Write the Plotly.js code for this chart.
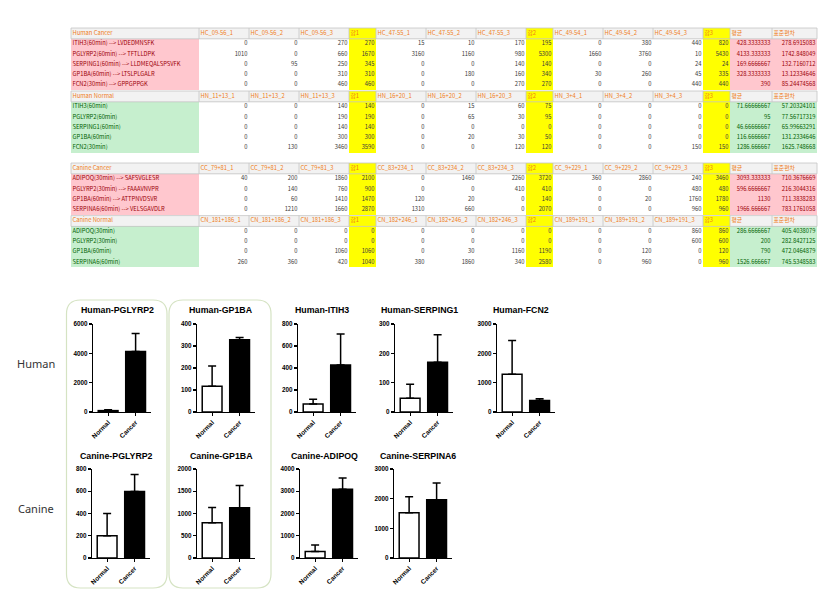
<!DOCTYPE html>
<html><head><meta charset="utf-8">
<script src="https://cdn.plot.ly/plotly-3.0.1.min.js"></script>
<style>html,body{margin:0;padding:0;background:#fff}#chart{width:840px;height:609px}</style>
</head><body><div id="chart"></div>
<script>
// ---------------- spreadsheet data ----------------
const hcHeader = ['Human Cancer','HC_09-56_1','HC_09-56_2','HC_09-56_3','합1','HC_47-55_1','HC_47-55_2','HC_47-55_3','합2','HC_49-54_1','HC_49-54_2','HC_49-54_3','합3','평균','표준편차'];
const hcLabels = ['ITIH3(60min) --> LVDEDMNSFK','PGLYRP2(60min) --> TFTLLDPK','SERPING1(60min) --> LLDMEQALSPSVFK','GP1BA(60min) --> LTSLPLGALR','FCN2(30min) --> GPPGPPGK'];
const hcValues = [
  [0,0,270,270,15,10,170,195,0,380,440,820,428.3333333,278.6915083],
  [1010,0,660,1670,3160,1160,980,5300,1660,3760,10,5430,4133.333333,1742.848049],
  [0,95,250,345,0,0,140,140,0,0,24,24,169.6666667,132.7160712],
  [0,0,310,310,0,180,160,340,30,260,45,335,328.3333333,13.12334646],
  [0,0,460,460,0,0,270,270,0,0,440,440,390,85.24474568]
];
const hnHeader = ['Human Normal','HN_11+13_1','HN_11+13_2','HN_11+13_3','합1','HN_16+20_1','HN_16+20_2','HN_16+20_3','합2','HN_3+4_1','HN_3+4_2','HN_3+4_3','합3','평균','표준편차'];
const hnLabels = ['ITIH3(60min)','PGLYRP2(60min)','SERPING1(60min)','GP1BA(60min)','FCN2(30min)'];
const hnValues = [
  [0,0,140,140,0,15,60,75,0,0,0,0,71.66666667,57.20324101],
  [0,0,190,190,0,65,30,95,0,0,0,0,95,77.56717319],
  [0,0,140,140,0,0,0,0,0,0,0,0,46.66666667,65.99663291],
  [0,0,300,300,0,20,30,50,0,0,0,0,116.6666667,131.2334646],
  [0,130,3460,3590,0,0,120,120,0,0,150,150,1286.666667,1625.748668]
];
const ccHeader = ['Canine Cancer','CC_79+81_1','CC_79+81_2','CC_79+81_3','합1','CC_83+234_1','CC_83+234_2','CC_83+234_3','합2','CC_9+229_1','CC_9+229_2','CC_9+229_3','합3','평균','표준편차'];
const ccLabels = ['ADIPOQ(30min) --> SAFSVGLESR','PGLYRP2(30min) --> FAAAVNVPR','GP1BA(60min) --> ATTPNVDSVR','SERPINA6(60min) --> VELSGAVDLR'];
const ccValues = [
  [40,200,1860,2100,0,1460,2260,3720,360,2860,240,3460,3093.333333,710.3676669],
  [0,140,760,900,0,0,410,410,0,0,480,480,596.6666667,216.3044316],
  [0,60,1410,1470,120,20,0,140,0,20,1760,1780,1130,711.3838283],
  [0,1210,1660,2870,1310,660,0,2070,0,0,960,960,1966.666667,783.1761058]
];
const cnHeader = ['Canine Normal','CN_181+186_1','CN_181+186_2','CN_181+186_3','합1','CN_182+246_1','CN_182+246_2','CN_182+246_3','합2','CN_189+191_1','CN_189+191_2','CN_189+191_3','합3','평균','표준편차'];
const cnLabels = ['ADIPOQ(30min)','PGLYRP2(30min)','GP1BA(60min)','SERPINA6(60min)'];
const cnValues = [
  [0,0,0,0,0,0,0,0,0,0,860,860,286.6666667,405.4038079],
  [0,0,0,0,0,0,0,0,0,0,600,600,200,282.8427125],
  [0,0,1060,1060,0,30,1160,1190,0,120,0,120,790,472.0464879],
  [260,360,420,1040,380,1860,340,2580,0,960,0,960,1526.666667,745.5348583]
];

// ---------------- bar chart data ----------------
const chartTitles = ['Human-PGLYRP2','Human-GP1BA','Human-ITIH3','Human-SERPING1','Human-FCN2','Canine-PGLYRP2','Canine-GP1BA','Canine-ADIPOQ','Canine-SERPINA6'];
const groups = ['Normal','Cancer'];
const normalMean = [95,116.67,71.67,46.67,1286.67,200,790,286.67,1526.67];
const cancerMean = [4133.33,328.33,428.33,169.67,390,596.67,1130,3093.33,1966.67];
const normalErr  = [60,92,44,48,1150,200,345,300,540];
const cancerErr  = [1220,10,280,94,60,155,500,500,560];
const yMax  = [6000,400,800,300,3000,800,2000,4000,3000];
const yStep = [2000,100,200,100,1000,200,500,1000,1000];
const rowLabels = ['Human','Canine'];

// ---------------- layout helpers ----------------
const W = 840, H = 609;
const px = v => v / W;
const py = v => 1 - v / H;
const traces = [];
const layout = {
  width: W, height: H, margin: {l:0,r:0,t:0,b:0},
  paper_bgcolor: '#ffffff', plot_bgcolor: 'rgba(0,0,0,0)',
  showlegend: false, annotations: [], shapes: []
};

// ---------------- spreadsheet drawn on a hidden full-frame axis ----------------
const colW = [128,50,50,50,27,50,50,50,27,50,50,50,27,42,45];
const yellowCols = [4,8,12];
const tableLeft = 71;
const colEdges = [tableLeft];
colW.forEach(w => colEdges.push(colEdges[colEdges.length-1] + w));
const blocks = [
  {header: hcHeader, labels: hcLabels, values: hcValues, cancer: true,  top: 28},
  {header: hnHeader, labels: hnLabels, values: hnValues, cancer: false, top: 91},
  {header: ccHeader, labels: ccLabels, values: ccValues, cancer: true,  top: 163},
  {header: cnHeader, labels: cnLabels, values: cnValues, cancer: false, top: 215.6}
];
const headH = 10.8, rowH = 10.2;
// colour codes: 0 white, 1 pink, 2 green, 3 yellow, 4 grey
const yEdges = [], zRows = [];
const tx = [], ty = [], tt = [], tpos = [], tcol = [];
const textFont = {family: 'Noto Sans CJK KR, Noto Sans, sans-serif', size: 5.8};
blocks.forEach((b, bi) => {
  let y = b.top;
  if (yEdges.length && yEdges[yEdges.length-1] < y) { zRows.push(colW.map(() => null)); }
  yEdges.push(y);
  zRows.push(colW.map((w, c) => yellowCols.includes(c) ? 3 : 4));
  b.header.forEach((h, c) => {
    tx.push(colEdges[c] + 1.5); ty.push(y + headH/2); tt.push(h); tpos.push('middle right'); tcol.push('#f07d1a');
  });
  layout.shapes.push({type:'rect', xref:'x10', yref:'y10', x0: colEdges[0], x1: colEdges[colEdges.length-1], y0: y, y1: y + headH,
    line:{color:'#c4c4c4', width:0.8}, fillcolor:'rgba(0,0,0,0)'});
  colEdges.slice(1, -1).forEach(e => layout.shapes.push({type:'line', xref:'x10', yref:'y10', x0:e, x1:e, y0:y, y1:y+headH,
    line:{color:'#c4c4c4', width:0.8}}));
  y += headH; yEdges.push(y);
  const lblCode = b.cancer ? 1 : 2;
  const lblFont = b.cancer ? '#9c0006' : '#006100';
  b.labels.forEach((lab, r) => {
    zRows.push(colW.map((w, c) => (c === 0 || c >= 13) ? lblCode : (yellowCols.includes(c) ? 3 : 0)));
    const yc = y + rowH/2;
    tx.push(colEdges[0] + 1.5); ty.push(yc); tt.push(lab); tpos.push('middle right'); tcol.push(lblFont);
    b.values[r].forEach((v, j) => {
      const c = j + 1;
      tx.push(colEdges[c+1] - 1.5); ty.push(yc); tt.push(String(v)); tpos.push('middle left');
      tcol.push(c >= 13 ? lblFont : '#3a3a3a');
    });
    y += rowH; yEdges.push(y);
  });
});
traces.push({
  type: 'heatmap', x: colEdges, y: yEdges, z: zRows, xaxis: 'x10', yaxis: 'y10',
  zmin: 0, zmax: 4, showscale: false, hoverinfo: 'skip', zsmooth: false,
  colorscale: [[0,'#ffffff'],[0.25,'#ffc7ce'],[0.5,'#c6efce'],[0.75,'#ffff00'],[1,'#f2f2f2']]
});
traces.push({
  type: 'scatter', mode: 'text', x: tx, y: ty, text: tt, textposition: tpos,
  textfont: Object.assign({}, textFont, {color: tcol}), xaxis: 'x10', yaxis: 'y10',
  hoverinfo: 'skip', cliponaxis: false
});
layout.xaxis10 = {domain: [0,1], range: [0, W], visible: false, fixedrange: true, anchor: 'y10'};
layout.yaxis10 = {domain: [0,1], range: [H, 0], visible: false, fixedrange: true, anchor: 'x10'};

// ---------------- bar subplots ----------------
const axisX = [93,197,298,395,497,92,197,300,394];
const rowTop = [324,469], rowBot = [412,558];
const titleY = [310, 456];
const plotW = 58;

function roundRect(x0,y0,x1,y1,r){
  const X = v => px(v), Y = v => py(v);
  return `M ${X(x0+r)} ${Y(y0)} L ${X(x1-r)} ${Y(y0)} Q ${X(x1)} ${Y(y0)} ${X(x1)} ${Y(y0+r)} L ${X(x1)} ${Y(y1-r)} Q ${X(x1)} ${Y(y1)} ${X(x1-r)} ${Y(y1)} L ${X(x0+r)} ${Y(y1)} Q ${X(x0)} ${Y(y1)} ${X(x0)} ${Y(y1-r)} L ${X(x0)} ${Y(y0+r)} Q ${X(x0)} ${Y(y0)} ${X(x0+r)} ${Y(y0)} Z`;
}
[[66.5,300,167,588],[169,300,271,588]].forEach(b => {
  layout.shapes.push({type:'path', xref:'paper', yref:'paper', path: roundRect(b[0],b[1],b[2],b[3],14),
    line:{color:'#d5e3c3', width:1.2}, fillcolor:'rgba(0,0,0,0)', layer:'below'});
});

chartTitles.forEach((title, i) => {
  const row = i < 5 ? 0 : 1;
  const k = i + 1;
  const xa = 'xaxis' + (k === 1 ? '' : k), ya = 'yaxis' + (k === 1 ? '' : k);
  const xr = 'x' + (k === 1 ? '' : k), yr = 'y' + (k === 1 ? '' : k);
  traces.push({
    type: 'bar', x: groups, y: [normalMean[i], cancerMean[i]], xaxis: xr, yaxis: yr,
    width: 0.72,
    marker: {color: ['#ffffff','#000000'], line: {color: '#000000', width: 1.5}},
    error_y: {type: 'data', symmetric: false, array: [normalErr[i], cancerErr[i]], arrayminus: [0,0],
      color: '#000000', thickness: 1.5, width: 4},
    hoverinfo: 'none'
  });
  layout[xa] = {domain: [px(axisX[i]), px(axisX[i] + plotW)], anchor: yr, type: 'category',
    range: [-0.55, 1.56], showline: true, linecolor: '#000', linewidth: 1.2,
    ticks: 'outside', ticklen: 3, tickcolor: '#000', tickwidth: 1.2, tickangle: -45,
    tickfont: {family: 'Arial, Liberation Sans, sans-serif', size: 6.5, color: '#000', weight: 'bold'},
    showgrid: false, zeroline: false, fixedrange: true};
  layout[ya] = {domain: [py(rowBot[row]), py(rowTop[row])], anchor: xr,
    range: [0, yMax[i]], tickmode: 'linear', tick0: 0, dtick: yStep[i],
    showline: true, linecolor: '#000', linewidth: 1.2,
    ticks: 'outside', ticklen: 3, tickcolor: '#000', tickwidth: 1.2,
    tickfont: {family: 'Arial, Liberation Sans, sans-serif', size: 6.3, color: '#000', weight: 'bold'},
    showgrid: false, zeroline: false, fixedrange: true};
  layout.annotations.push({xref: 'paper', yref: 'paper', x: px(axisX[i] + 24), y: py(titleY[row]),
    text: title, showarrow: false, xanchor: 'center', yanchor: 'middle',
    font: {family: 'Arial, Liberation Sans, sans-serif', size: 8.8, color: '#000', weight: 'bold'}});
});

rowLabels.forEach((t, r) => {
  layout.annotations.push({xref: 'paper', yref: 'paper', x: px(36), y: py(r ? 508 : 363),
    text: t, showarrow: false, xanchor: 'center', yanchor: 'middle',
    font: {family: 'Noto Sans, DejaVu Sans, sans-serif', size: 11, color: '#333'}});
});

Plotly.newPlot('chart', traces, layout, {staticPlot: true, displayModeBar: false});
</script></body></html>
